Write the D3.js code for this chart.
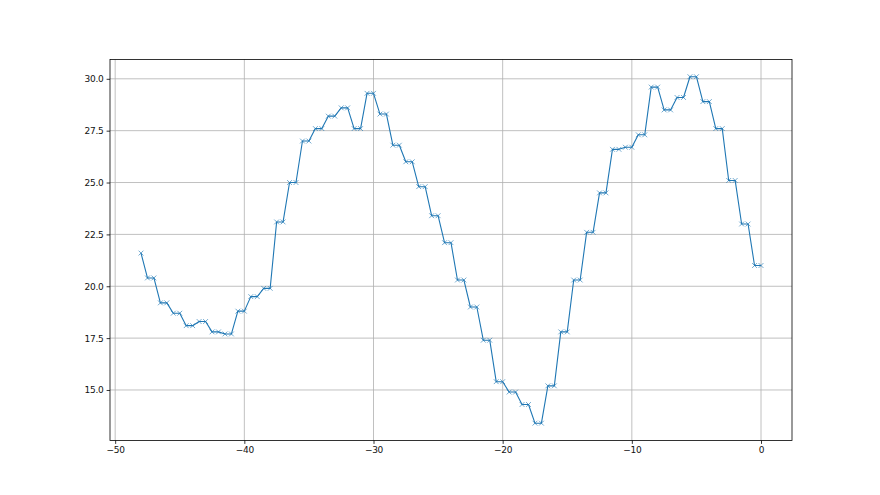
<!DOCTYPE html>
<html>
<head>
<meta charset="utf-8">
<script src="https://cdnjs.cloudflare.com/ajax/libs/d3/7.8.5/d3.min.js"></script>
<style>
  body { margin: 0; background: #fff; }
  svg { display: block; }
</style>
</head>
<body>
<div id="vis"></div>
<script>
////////data/////////////////////////////////////////////////
// x runs from -48 to 0 in half steps
const xStart = -48
const xStep = 0.5
const yValues = [
  21.6,
  20.4, 20.4, 19.2, 19.2, 18.7, 18.7, 18.1, 18.1, 18.3, 18.3,
  17.8, 17.8, 17.7, 17.7, 18.8, 18.8, 19.5, 19.5, 19.9, 19.9,
  23.1, 23.1, 25.0, 25.0, 27.0, 27.0, 27.6, 27.6, 28.2, 28.2,
  28.6, 28.6, 27.6, 27.6, 29.3, 29.3, 28.3, 28.3, 26.8, 26.8,
  26.0, 26.0, 24.8, 24.8, 23.4, 23.4, 22.1, 22.1, 20.3, 20.3,
  19.0, 19.0, 17.4, 17.4, 15.4, 15.4, 14.9, 14.9, 14.3, 14.3,
  13.4, 13.4, 15.2, 15.2, 17.8, 17.8, 20.3, 20.3, 22.6, 22.6,
  24.5, 24.5, 26.6, 26.6, 26.7, 26.7, 27.3, 27.3, 29.6, 29.6,
  28.5, 28.5, 29.1, 29.1, 30.1, 30.1, 28.9, 28.9, 27.6, 27.6,
  25.1, 25.1, 23.0, 23.0, 21.0, 21.0
]
const xTicks = [-50, -40, -30, -20, -10, 0]
const yTicks = [15.0, 17.5, 20.0, 22.5, 25.0, 27.5, 30.0]

////////setting up/////////////////////////////////////////////////
var width = 880
var height = 495
const margin = {top: 59.4, right: 88, bottom: 54.5, left: 110}
const data = yValues.map((v, i) => ({x: xStart + i * xStep, y: v}))

const svg = d3.select("#vis")
  .append("svg")
  .attr("width", width)
  .attr("height", height)
  .attr("font-family", "DejaVu Sans, sans-serif")

// matplotlib style 5% padding
const xExt = d3.extent(data, d => d.x)
const yExt = d3.extent(data, d => d.y)
const xPad = (xExt[1] - xExt[0]) * 0.05
const yPad = (yExt[1] - yExt[0]) * 0.05

const x = d3.scaleLinear()
  .domain([xExt[0] - xPad, xExt[1] + xPad])
  .range([margin.left, width - margin.right])
const y = d3.scaleLinear()
  .domain([yExt[0] - yPad, yExt[1] + yPad])
  .range([height - margin.bottom, margin.top])

////////grid/////////////////////////////////////////////////
svg.append("g")
  .selectAll("line")
  .data(xTicks)
  .join("line")
  .attr("x1", d => x(d)).attr("x2", d => x(d))
  .attr("y1", margin.top).attr("y2", height - margin.bottom)
  .attr("stroke", "#b0b0b0").attr("stroke-width", 0.8)

svg.append("g")
  .selectAll("line")
  .data(yTicks)
  .join("line")
  .attr("x1", margin.left).attr("x2", width - margin.right)
  .attr("y1", d => y(d)).attr("y2", d => y(d))
  .attr("stroke", "#b0b0b0").attr("stroke-width", 0.8)

////////line + markers/////////////////////////////////////////
const line = d3.line().x(d => x(d.x)).y(d => y(d.y))
svg.append("path")
  .datum(data)
  .attr("fill", "none")
  .attr("stroke", "#1f77b4")
  .attr("stroke-width", 1.1)
  .attr("stroke-linejoin", "round")
  .attr("d", line)

const ms = 2.4
svg.append("g")
  .selectAll("path")
  .data(data)
  .join("path")
  .attr("d", d => {
    const cx = x(d.x), cy = y(d.y)
    return `M${cx - ms},${cy - ms}L${cx + ms},${cy + ms}M${cx - ms},${cy + ms}L${cx + ms},${cy - ms}`
  })
  .attr("stroke", "#1f77b4")
  .attr("stroke-width", 0.75)
  .attr("stroke-opacity", 0.85)
  .attr("fill", "none")

////////axes/////////////////////////////////////////////////
const xAxis = svg.append("g")
  .attr("transform", `translate(0,${height - margin.bottom})`)
  .call(d3.axisBottom(x).tickValues(xTicks).tickSize(3.4).tickPadding(3.2).tickFormat(d3.format("d")))
const yAxis = svg.append("g")
  .attr("transform", `translate(${margin.left},0)`)
  .call(d3.axisLeft(y).tickValues(yTicks).tickSize(3.4).tickPadding(3.2).tickFormat(d3.format(".1f")))

for (const ax of [xAxis, yAxis]) {
  ax.select(".domain").remove()
  ax.selectAll(".tick line").attr("stroke", "#000").attr("stroke-width", 0.8)
  ax.selectAll(".tick text").attr("fill", "#111").attr("font-size", "9px")
    .attr("font-family", "DejaVu Sans, sans-serif").attr("letter-spacing", "-0.3px")
}

// frame
svg.append("rect")
  .attr("x", margin.left).attr("y", margin.top)
  .attr("width", width - margin.left - margin.right)
  .attr("height", height - margin.top - margin.bottom)
  .attr("fill", "none").attr("stroke", "#000").attr("stroke-width", 0.8)
</script>
</body>
</html>
